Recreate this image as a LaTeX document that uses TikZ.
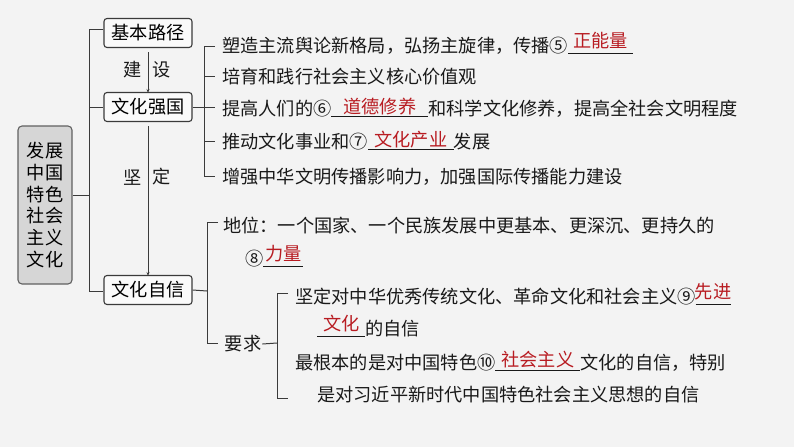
\documentclass[tikz,border=0pt]{standalone}
\usepackage{fontspec}
\setmainfont{Noto Sans CJK SC}
\usetikzlibrary{arrows.meta}
\definecolor{bgc}{HTML}{F3F3F3}
\definecolor{ansred}{HTML}{B81C22}
\definecolor{linec}{HTML}{3A3A3A}
\definecolor{rootc}{HTML}{D6D6D6}
\newcommand\ans[3]{\makebox[0pt][l]{\rule[-2pt]{#1}{0.8pt}}\makebox[#1][c]{\raisebox{#2}{\color{ansred}#3}}}
\tikzset{
  conn/.style={draw=linec, line width=1pt},
  topbox/.style={draw=linec, line width=1.1pt, rounded corners=3pt, fill=white!60!bgc,
    minimum width=88pt, minimum height=29pt, inner sep=0pt, font=\fontsize{18.2}{20}\selectfont},
  rootbox/.style={draw=linec!80, line width=1.1pt, rounded corners=4pt, fill=rootc,
    minimum width=54pt, minimum height=158pt, inner sep=0pt, align=center,
    font=\fontsize{18.2}{21.7}\selectfont},
  txt/.style={anchor=base west, inner sep=0pt, font=\fontsize{18.2}{20}\selectfont, text=black!90},
  lbl/.style={anchor=center, inner sep=0pt, font=\fontsize{18.2}{20}\selectfont, text=black!90},
  arr/.style={conn, -{Stealth[length=4pt,width=3pt]}}
}
\begin{document}
\begin{tikzpicture}[x=1pt,y=-1pt]
\fill[bgc] (0,0) rectangle (794,447);
\useasboundingbox (0,0) rectangle (794,447);

% root
\node[rootbox] (root) at (45,205) {发展\\中国\\特色\\社会\\主义\\文化};
% level 1 boxes
\node[topbox] (b1) at (148,33) {基本路径};
\node[topbox] (b2) at (148,107) {文化强国};
\node[topbox] (b3) at (148,290) {文化自信};

\coordinate (v1) at (89,195);
\draw[conn] (root.east |- v1) -- (v1);
\draw[conn] (b1.west |- 0,29) -| (89,291) -- (b3.west |- 0,291);
\draw[conn] (89,107) -- (b2.west);

% arrows between boxes
\draw[arr] (b1.south) ++(0,4) -- ([yshift=-1pt]b2.north);
\draw[arr] (b2.south) ++(0,4) -- ([yshift=-1pt]b3.north);
\node[lbl] (jian) at (133,70) {建};
\node[lbl] (she) at (162,70) {设};
\node[lbl] (jianA) at (133,177) {坚};
\node[lbl] (ding) at (162,177) {定};

% group 1 bracket
\coordinate (g1) at (204,107);
\draw[conn] (b2.east) -- (215,107);
\draw[conn] (215,46) -- (204,46) -- (204,176) -- (215,176);
\draw[conn] (204,76) -- (215,76);
\draw[conn] (204,141) -- (215,141);

\node[txt] (t1) at (222,52) {塑造主流舆论新格局，弘扬主旋律，传播⑤\ans{65pt}{5pt}{正能量}};
\node[txt] (t2) at (222,83) {培育和践行社会主义核心价值观};
\node[txt] (t3) at (222,115) {提高人们的⑥\ans{97pt}{1.5pt}{道德修养}和科学文化修养，提高全社会文明程度};
\node[txt] (t4) at (222,148) {推动文化事业和⑦\ans{86pt}{1.5pt}{文化产业}发展};
\node[txt] (t5) at (222,183) {增强中华文明传播影响力，加强国际传播能力建设};

% group 2 bracket
\draw[conn] (b3.east) -- (207,291);
\draw[conn] (218,222) -- (207,222) -- (207,343) -- (218,343);
\node[txt] (s1) at (223,232) {地位：一个国家、一个民族发展中更基本、更深沉、更持久的};
\node[txt] (s2) at (245,265) {⑧\ans{40pt}{5pt}{力量}};
\node[lbl] (yq) at (243,344) {要求};

\draw[conn] (yq.east) ++(1,0) -- (277,343);
\draw[conn] (288,293) -- (277,293) -- (277,398) -- (288,398);
\node[txt] (r1) at (295,303) {坚定对中华优秀传统文化、革命文化和社会主义⑨\ans{35pt}{5pt}{先进}};
\node[txt] (r2) at (317,335) {\ans{48pt}{5pt}{文化}的自信};
\node[txt] (r3) at (295,369) {最根本的是对中国特色⑩\ans{85pt}{3pt}{社会主义}文化的自信，特别};
\node[txt] (r4) at (317,401) {是对习近平新时代中国特色社会主义思想的自信};
\end{tikzpicture}
\end{document}
